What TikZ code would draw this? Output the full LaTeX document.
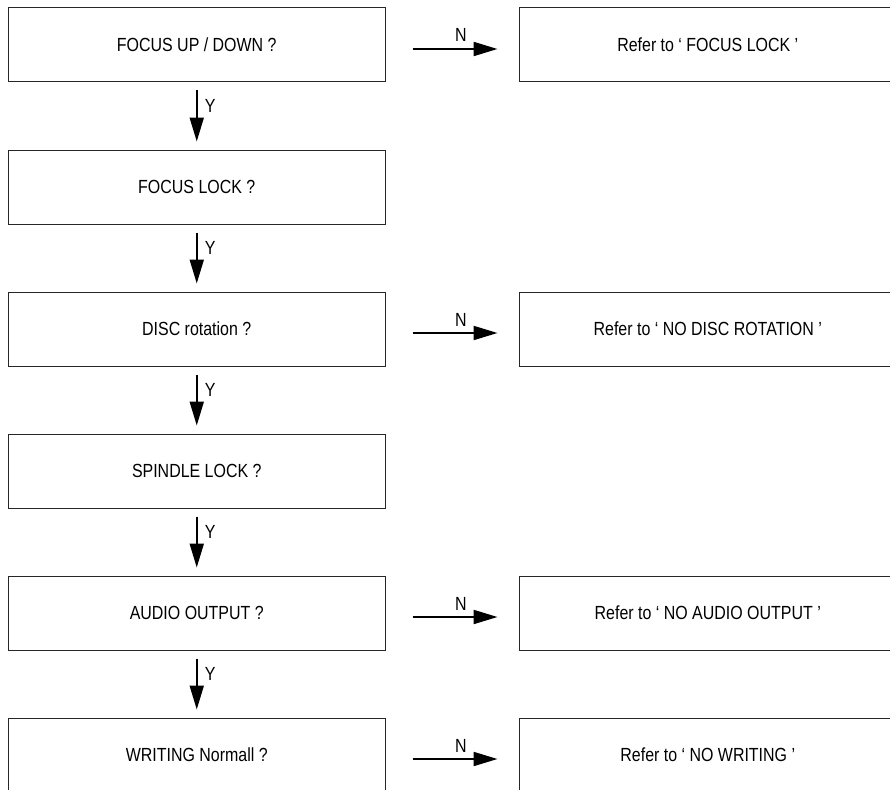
\documentclass[tikz,border=0pt]{standalone}
\usepackage{fontspec}
\setmainfont{Liberation Sans}[FakeStretch=0.84]
\usetikzlibrary{arrows.meta}

\begin{document}
\begin{tikzpicture}[x=1pt,y=1pt,
  box/.style={draw=black!85,line width=1pt,minimum width=377.5pt,minimum height=74pt,inner sep=0pt,font=\fontsize{19}{22}\selectfont},
  flow/.style={line width=2pt,-{Triangle[length=24pt,width=14pt]}},
  lbl/.style={font=\fontsize{19}{22}\selectfont,inner sep=2pt}]
\useasboundingbox (0,0) rectangle (890,-789);
\clip (0,0) rectangle (890,-789);

\node[box] (q1) at (196.75,-45) {FOCUS UP / DOWN ?};
\node[box] (q2) at (196.75,-187) {FOCUS LOCK ?};
\node[box] (q3) at (196.75,-329) {DISC rotation ?};
\node[box] (q4) at (196.75,-471) {SPINDLE LOCK ?};
\node[box] (q5) at (196.75,-613) {AUDIO OUTPUT ?};
\node[box] (q6) at (196.75,-755) {WRITING Normall ?};

\node[box] (r1) at (707.75,-45) {Refer to ` FOCUS LOCK '};
\node[box] (r3) at (707.75,-329) {Refer to ` NO DISC ROTATION '};
\node[box] (r5) at (707.75,-613) {Refer to ` NO AUDIO OUTPUT '};
\node[box] (r6) at (707.75,-755) {Refer to ` NO WRITING '};

\draw[flow] ([yshift=-8pt]q1.south) -- ([yshift=8pt]q2.north) node[lbl,right=5pt,pos=.3] {Y};
\draw[flow] ([yshift=-8pt]q2.south) -- ([yshift=8pt]q3.north) node[lbl,right=5pt,pos=.3] {Y};
\draw[flow] ([yshift=-8pt]q3.south) -- ([yshift=8pt]q4.north) node[lbl,right=5pt,pos=.3] {Y};
\draw[flow] ([yshift=-8pt]q4.south) -- ([yshift=8pt]q5.north) node[lbl,right=5pt,pos=.3] {Y};
\draw[flow] ([yshift=-8pt]q5.south) -- ([yshift=8pt]q6.north) node[lbl,right=5pt,pos=.3] {Y};

\draw[flow] ([xshift=26.5pt,yshift=-4pt]q1.east) -- ([xshift=-21pt,yshift=-4pt]r1.west) node[lbl,above=4pt,pos=.57] {N};
\draw[flow] ([xshift=26.5pt,yshift=-4pt]q3.east) -- ([xshift=-21pt,yshift=-4pt]r3.west) node[lbl,above=4pt,pos=.57] {N};
\draw[flow] ([xshift=26.5pt,yshift=-4pt]q5.east) -- ([xshift=-21pt,yshift=-4pt]r5.west) node[lbl,above=4pt,pos=.57] {N};
\draw[flow] ([xshift=26.5pt,yshift=-4pt]q6.east) -- ([xshift=-21pt,yshift=-4pt]r6.west) node[lbl,above=4pt,pos=.57] {N};

\end{tikzpicture}
\end{document}
